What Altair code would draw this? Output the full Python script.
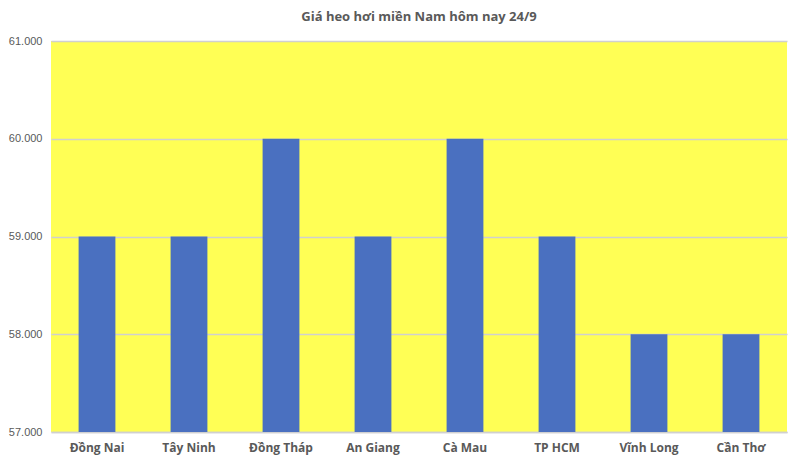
import altair as alt
import pandas as pd

provinces = ["Đồng Nai", "Tây Ninh", "Đồng Tháp", "An Giang", "Cà Mau", "TP HCM", "Vĩnh Long", "Cần Thơ"]
prices = [59000, 59000, 60000, 59000, 60000, 59000, 58000, 58000]
y_ticks = [57000, 58000, 59000, 60000, 61000]

df = pd.DataFrame({"tinh": provinces, "gia": prices})

chart = alt.Chart(df).mark_bar(color="#4A70C0").encode(
    x=alt.X("tinh:N", sort=provinces, title=None,
            scale=alt.Scale(paddingInner=0.6, paddingOuter=0.3),
            axis=alt.Axis(labelAngle=0, labelFont="Open Sans", labelFontSize=12,
                          labelFontWeight="bold", labelColor="#595959",
                          ticks=False, domain=True, domainColor="#D0D0D0",
                          domainWidth=1.5, labelPadding=10)),
    y=alt.Y("gia:Q", title=None,
            scale=alt.Scale(domain=[57000, 61000], zero=False, nice=False),
            axis=alt.Axis(values=y_ticks, ticks=False, domain=False,
                          labelExpr="replace(format(datum.value, ',.0f'), ',', '.')",
                          labelFont="Liberation Sans", labelFontSize=11, labelColor="#595959",
                          labelPadding=9, gridColor="#D0D0D0", gridWidth=1.5)),
    y2=alt.datum(57000),
).properties(
    width=736, height=391,
    background="white",
    title=alt.TitleParams("Giá heo hơi miền Nam hôm nay 24/9", font="Open Sans",
                          fontSize=13, fontWeight="bold", color="#595959", offset=11),
    autosize=alt.AutoSizeParams(type="none"),
    padding={"left": 43, "top": 33, "right": 5, "bottom": 27},
).configure_view(fill="#FFFF55", stroke=None)

chart.save("out.html", embed_options={"renderer": "svg", "actions": False})
